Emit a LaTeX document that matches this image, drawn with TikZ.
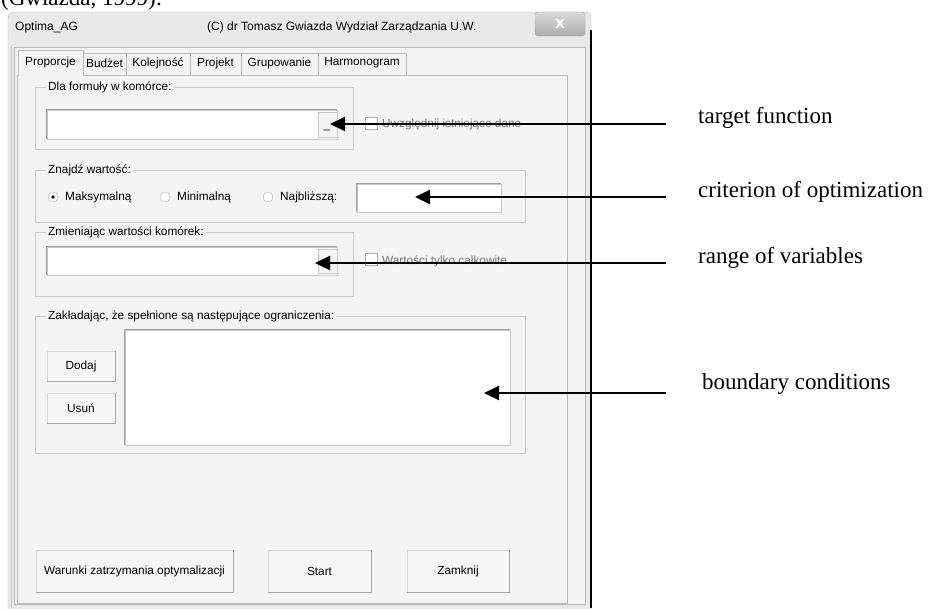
\documentclass[tikz,border=0pt]{standalone}
\usepackage{fontspec}
\setmainfont{Liberation Serif}
\newfontfamily\uifont{Liberation Sans}
\usetikzlibrary{arrows.meta}
\definecolor{winbg}{HTML}{E9E9E9}
\definecolor{panelbg}{HTML}{F4F4F4}

\begin{document}
\begin{tikzpicture}[x=1pt, y=-1pt, >={Triangle[length=15pt,width=14pt]},
	ui/.style={font=\uifont\fontsize{11.8}{13}\selectfont, inner sep=0pt},
	field/.style={draw=gray!45, fill=white, inner sep=0pt},
	button/.style={ui, draw=gray!30, fill=gray!7},
	grouplabel/.style={ui, fill=panelbg, inner sep=2pt, anchor=west},
	tick/.style={draw=gray!60, fill=white},
	callout/.style={->, line width=2.2pt},
	note/.style={font=\fontsize{23}{26}\selectfont, anchor=base west, inner sep=0pt}]
	\useasboundingbox (0,0) rectangle (928,608);
	\fill[white] (0,0) rectangle (928,608);
	\node[note] (source) at (1,5.5) {(Gwiazda, 1999):};
	\draw[gray!60, fill=winbg, rounded corners=6pt] (8,620) -- (8,12) -- (591,12) -- (591,620);
	\draw[black, line width=1.2pt] (591,30) -- (591,608);
	\draw[gray!45] (11,46) -- (11,608);
	\draw[gray!55, fill=panelbg] (14,47) rectangle (585,604);
	\node[ui, anchor=west, font=\uifont\fontsize{12}{14}\selectfont] (appname) at (15,27) {Optima\_AG};
	\node[ui, anchor=west, font=\uifont\fontsize{12}{14}\selectfont] (author) at (207,27) {(C) dr Tomasz Gwiazda Wydział Zarządzania U.W.};
	\node[draw=gray!75, rounded corners=3pt, top color=gray!30, bottom color=gray!65, minimum width=50pt, minimum height=24pt,
		text=white, font=\uifont\bfseries\fontsize{17}{17}\selectfont] (closex) at (560,24) {x};
	\draw[gray!55] (17,75) rectangle (567,603);
	\foreach \a/\b/\t [count=\i] in {83/126/Budżet, 126/190/Kolejność, 190/241/Projekt, 241/318/Grupowanie, 318/406/Harmonogram} {
		\draw[gray!55, fill=panelbg] (\a,75) -- (\a,53) -- (\b,53) -- (\b,75);
		\node[ui] (tab\i) at ({(\a+\b)/2},63) {\t};
	}
	\draw[gray!55, fill=panelbg] (18,76) -- (18,50) -- (83,50) -- (83,76);
	\node[ui] (tab0) at (50.5,62) {Proporcje};
	\draw[gray!40] (35,87) rectangle (353,149);
	\node[grouplabel] (g1) at (46,87) {Dla formuły w komórce:};
	\node[field, minimum width=290pt, minimum height=29pt] (formula) at (192,124.5) {};
	\draw[gray!75, line width=1pt] (formula.south west) |- (formula.north east);
	\draw[gray!45, fill=gray!8] ([xshift=-19pt,yshift=-2pt]formula.north east) rectangle ([yshift=2pt]formula.south east);
	\node[ui] (pick1) at (327,130) {\_};
	\draw[tick] (365,117) rectangle (377,129);
	\node[ui, anchor=west, text=black!55] (keep) at (382,124) {Uwzględnij istniejące dane};
	\draw[gray!40] (35,170) rectangle (525,222);
	\node[grouplabel] (g2) at (46,170) {Znajdź wartość:};
	\foreach \x/\t [count=\i] in {53/Maksymalną, 165/Minimalną, 268/Najbliższą:} {
		\draw[tick] (\x,197) circle (5);
		\node[ui, anchor=west] (opt\i) at (\x+12,197) {\t};
	}
	\fill (53,197) circle (1.8);
	\node[field, minimum width=144pt, minimum height=28pt] (nearest) at (429,198) {};
	\draw[gray!75, line width=1pt] (nearest.south west) |- (nearest.north east);
	\draw[gray!40] (35,232) rectangle (353,296);
	\node[grouplabel] (g3) at (46,232) {Zmieniając wartości komórek:};
	\node[field, minimum width=290pt, minimum height=28pt] (cells) at (192,261) {};
	\draw[gray!75, line width=1pt] (cells.south west) |- (cells.north east);
	\draw[gray!45, fill=gray!8] ([xshift=-19pt,yshift=-2pt]cells.north east) rectangle ([yshift=2pt]cells.south east);
	\node[ui] (pick2) at (327,267) {\_};
	\draw[tick] (365,253) rectangle (377,265);
	\node[ui, anchor=west, text=black!55] (whole) at (382,261) {Wartości tylko całkowite};
	\draw[gray!40] (35,316) rectangle (525,453);
	\node[grouplabel] (g4) at (46,316) {Zakładając, że spełnione są następujące ograniczenia:};
	\node[field, minimum width=385pt, minimum height=115pt] (limits) at (317.5,387.5) {};
	\draw[gray!75, line width=1pt] (limits.south west) |- (limits.north east);
	\node[button, minimum width=68pt, minimum height=30pt] (dodaj) at (81,366) {Dodaj};
	\node[button, minimum width=68pt, minimum height=30pt] (usun) at (81,408) {Usuń};
	\node[button, minimum width=197pt, minimum height=42pt] (stopbtn) at (134.5,571) {Warunki zatrzymania optymalizacji};
	\node[button, minimum width=103pt, minimum height=42pt] (startbtn) at (319.5,571) {Start};
	\node[button, minimum width=102pt, minimum height=42pt] (closebtn) at (458,571) {Zamknij};
	\foreach \b in {dodaj, usun, stopbtn, startbtn, closebtn} {
		\draw[gray!70, line width=1pt] (\b.south west) -| (\b.north east);
	}
	\node[note] (lbl1) at (698,123) {target function};
	\node[note] (lbl2) at (698,197) {criterion of optimization};
	\node[note] (lbl3) at (698,263) {range of variables};
	\node[note] (lbl4) at (702,389) {boundary conditions};
	\coordinate (rim) at (666,0);
	\coordinate (tip1) at (330,124);
	\coordinate (tip2) at (415,197);
	\coordinate (tip3) at (315,263);
	\coordinate (tip4) at (484,393);
	\foreach \i in {1, ..., 4} {
		\draw[callout] (rim |- tip\i) -- (tip\i);
	}
\end{tikzpicture}
\end{document}
